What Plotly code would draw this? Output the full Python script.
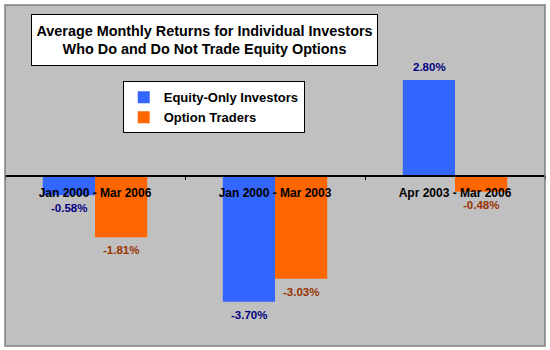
import plotly.graph_objects as go

periods = ["Jan 2000 - Mar 2006", "Jan 2000 - Mar 2003", "Apr 2003 - Mar 2006"]
equity_only = [-0.58, -3.70, 2.80]
option_traders = [-1.81, -3.03, -0.48]
series_names = ["Equity-Only Investors", "Option Traders"]
title_lines = ["Average Monthly Returns for Individual Investors",
               "Who Do and Do Not Trade Equity Options"]

BLUE = "#3366FF"
ORANGE = "#FF6600"
FONT = "Liberation Sans, Arial, sans-serif"

fig = go.Figure()
series = [
    (series_names[0], equity_only, BLUE, "#000080", -26),
    (series_names[1], option_traders, ORANGE, "#993300", 26),
]
for name, vals, color, tcolor, dx in series:
    fig.add_trace(go.Bar(
        x=periods, y=vals, name=name,
        marker=dict(color=color, line=dict(width=0)),
        cliponaxis=False,
    ))
    # value labels just beyond the end of each bar
    for p, v in zip(periods, vals):
        fig.add_annotation(
            x=p, y=v, xshift=dx, yshift=13 if v >= 0 else -13,
            text=f"<b>{v:.2f}%</b>", showarrow=False,
            xanchor="center", yanchor="middle",
            font=dict(family=FONT, size=11.5, color=tcolor),
        )

fig.update_layout(
    width=550, height=350,
    margin=dict(l=5, r=5, t=5, b=4),
    paper_bgcolor="white",
    plot_bgcolor="#C0C0C0",
    barmode="group",
    bargap=0.42,
    bargroupgap=0,
    showlegend=True,
    legend=dict(
        x=0.218, y=0.776, xanchor="left", yanchor="top",
        bgcolor="white", bordercolor="black", borderwidth=1,
        font=dict(family=FONT, size=13, color="black", weight="bold"),
        tracegroupgap=0, itemwidth=30,
    ),
    xaxis=dict(
        anchor="free", position=0.5,
        showline=True, linecolor="black", linewidth=1.5,
        ticks="outside", tickson="boundaries", ticklen=4, tickcolor="black",
        tickvals=periods,
        ticktext=[f"<b>{p}</b>" for p in periods],
        tickfont=dict(family=FONT, size=12, color="black"),
        ticklabelstandoff=6,
        showgrid=False, zeroline=False,
    ),
    yaxis=dict(
        range=[-5, 5], visible=False, showgrid=False, zeroline=False,
    ),
)

# Title box
fig.add_annotation(
    xref="paper", yref="paper", x=0.370, y=0.897,
    xanchor="center", yanchor="middle",
    text="<br>".join(f"<b>{t}</b>" for t in title_lines),
    showarrow=False,
    font=dict(family=FONT, size=14.4, color="black"),
    bgcolor="white", bordercolor="black", borderwidth=1,
    borderpad=4, width=337, height=42, align="center",
)

# Chart border
fig.add_shape(type="rect", xref="paper", yref="paper", x0=0, x1=1, y0=0, y1=1,
              line=dict(color="#808080", width=1.5), layer="above")

fig.write_html("out.html")
